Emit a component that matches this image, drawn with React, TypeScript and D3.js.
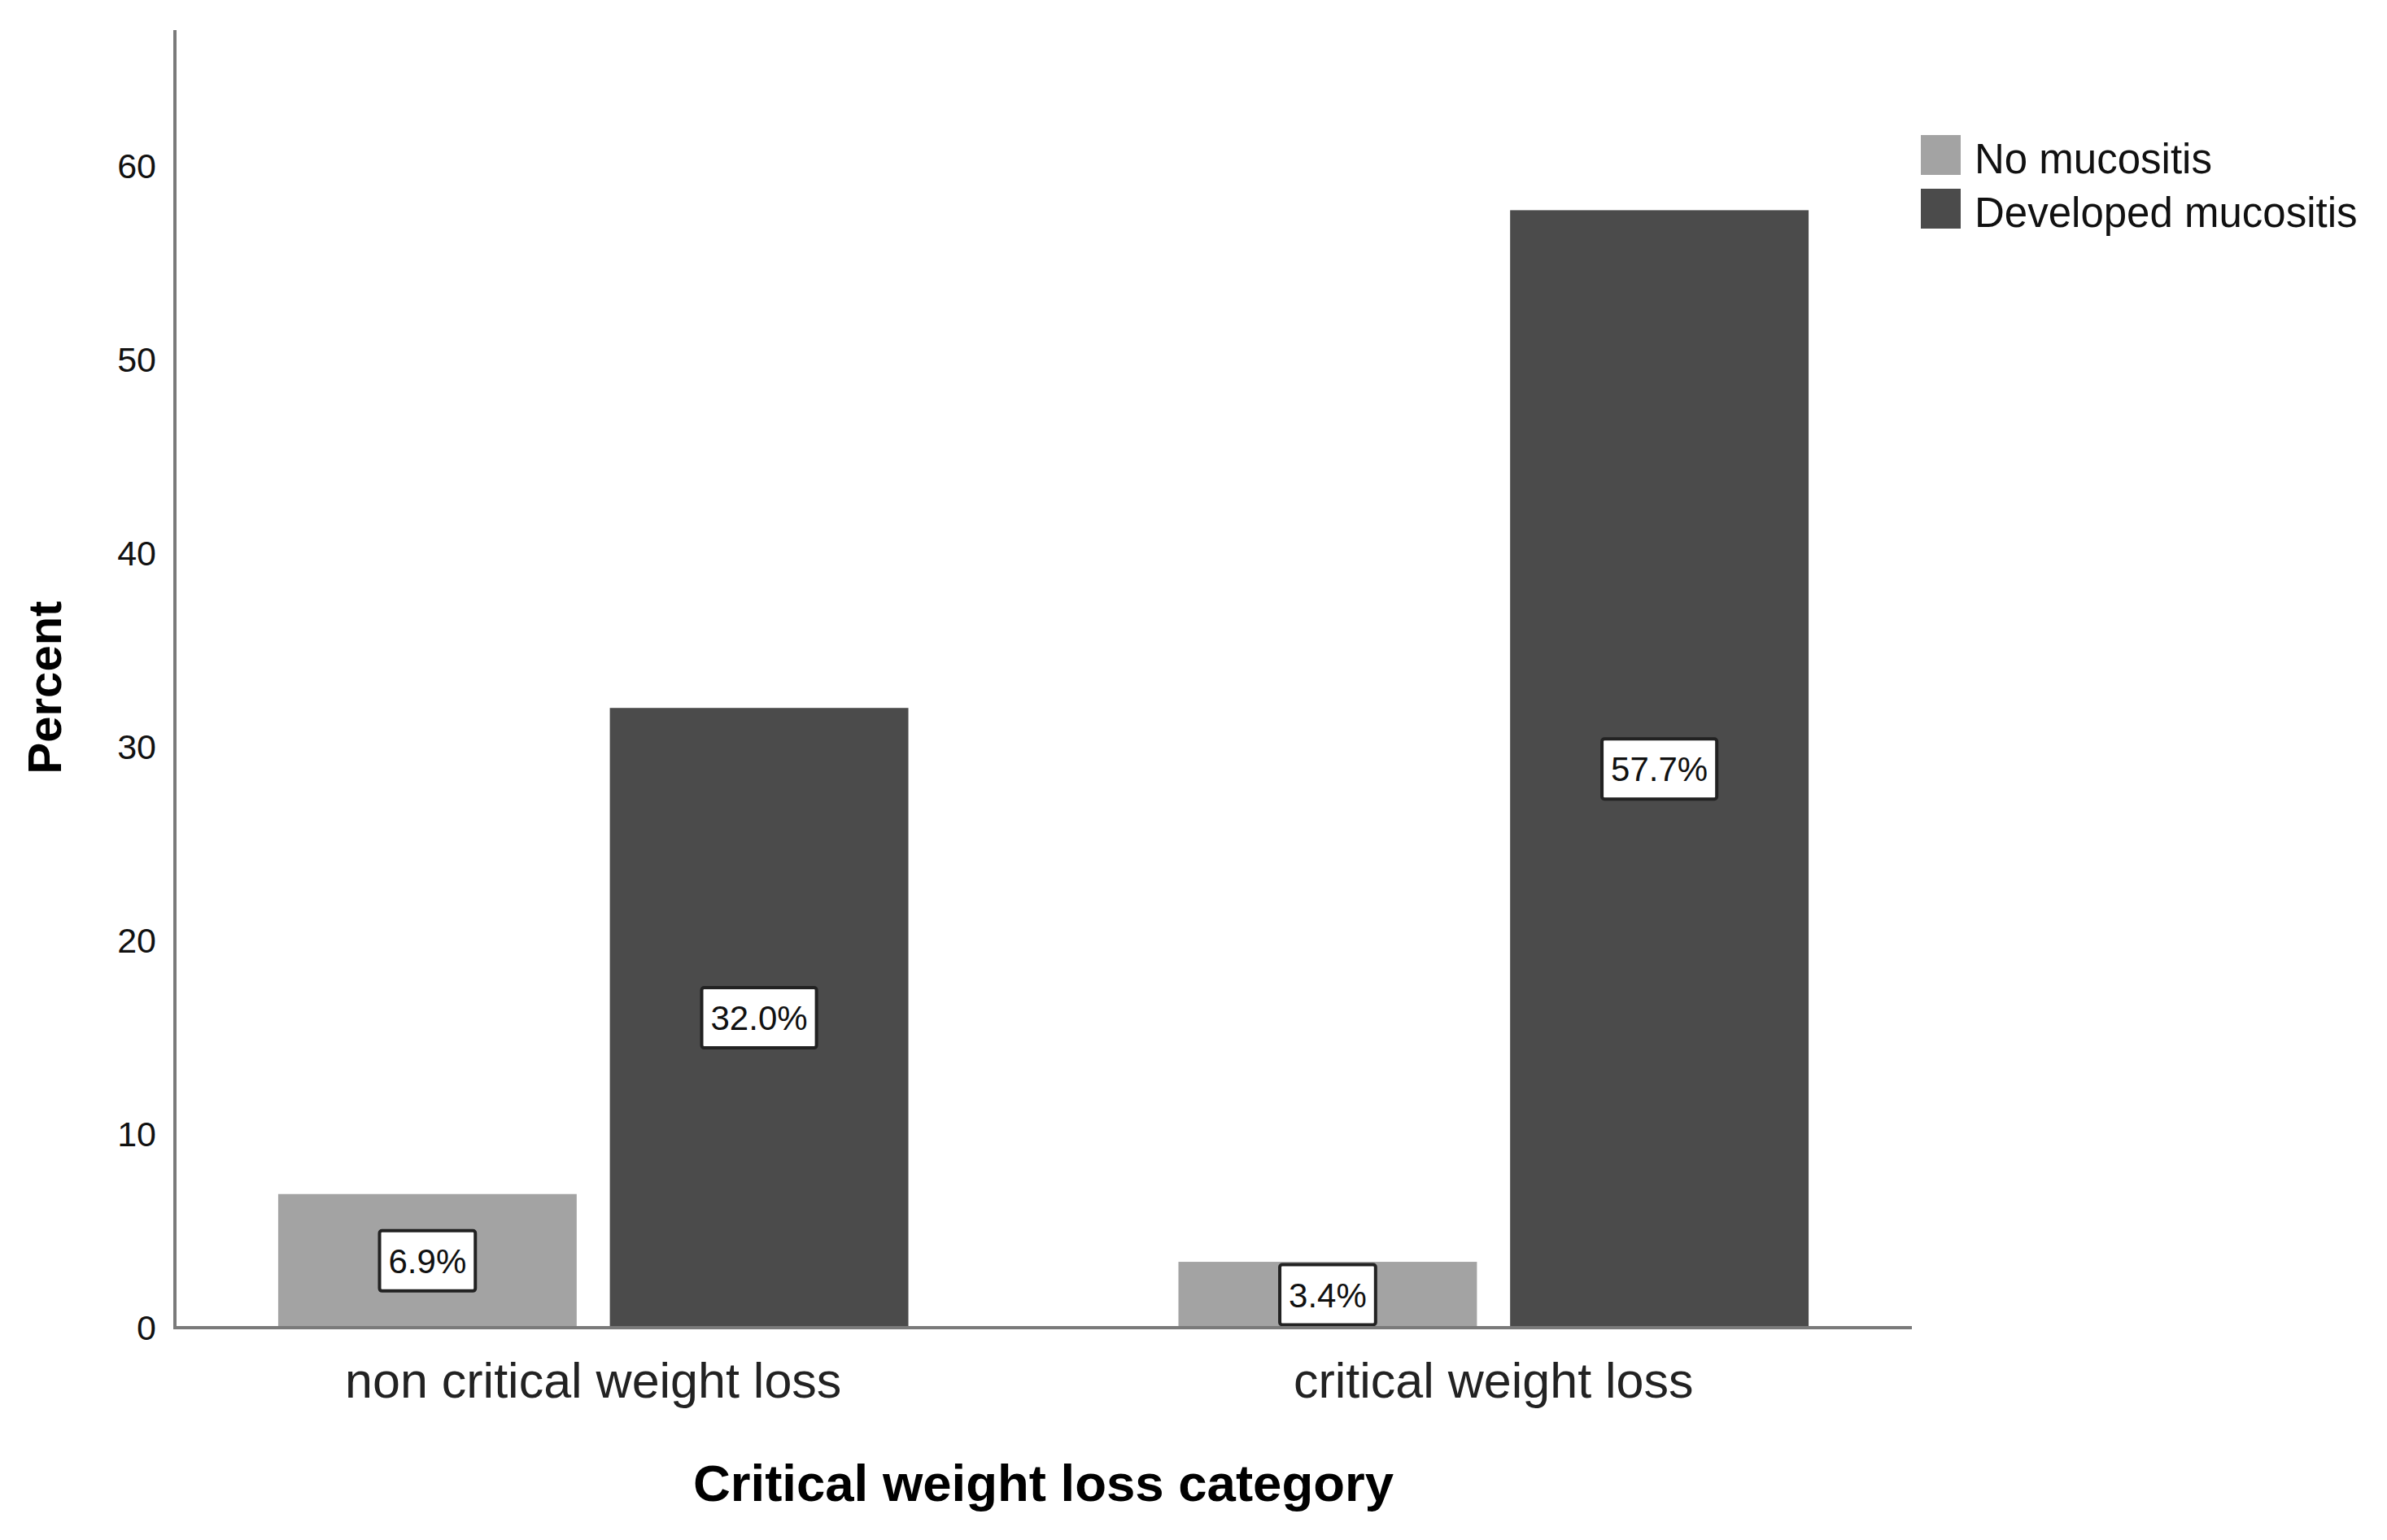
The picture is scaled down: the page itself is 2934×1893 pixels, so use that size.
import React, { useEffect, useRef } from "react";
import * as d3 from "d3";

const categories = ["non critical weight loss", "critical weight loss"];
const seriesNames = ["No mucositis", "Developed mucositis"];
const noMucositis = [6.9, 3.4];
const developedMucositis = [32.0, 57.7];
const yTicks = [0, 10, 20, 30, 40, 50, 60];
const seriesColors = ["#a3a3a3", "#4b4b4b"];

const W = 2934;
const H = 1893;
const FONT = "'Liberation Sans', Arial, sans-serif";

function App() {
  const svgRef = useRef<SVGSVGElement | null>(null);

  useEffect(() => {
    drawChart();
  }, []);

  const drawChart = () => {
    const svg = d3.select(svgRef.current);
    svg.selectAll("*").remove();

    const left = 215;
    const right = 2350;
    const top = 37;
    const bottom = 1632;

    const data = categories.map((c, i) => ({
      category: c,
      values: [noMucositis[i], developedMucositis[i]],
    }));

    const x0 = d3
      .scaleBand<string>()
      .domain(categories)
      .range([left, right])
      .paddingInner(0.3)
      .paddingOuter(0.1147);

    const x1 = d3
      .scaleBand<string>()
      .domain(seriesNames)
      .range([0, x0.bandwidth()])
      .paddingInner(0.1)
      .paddingOuter(0);

    const y = d3.scaleLinear().domain([0, 67]).range([bottom, top]);

    svg
      .append("rect")
      .attr("width", W)
      .attr("height", H)
      .attr("fill", "#ffffff");

    // bars
    const groups = svg
      .selectAll(".group")
      .data(data)
      .enter()
      .append("g")
      .attr("class", "group")
      .attr("transform", (d) => `translate(${x0(d.category)},0)`);

    const cells = groups
      .selectAll(".cell")
      .data((d) => d.values.map((v, i) => ({ name: seriesNames[i], value: v, idx: i })))
      .enter()
      .append("g")
      .attr("class", "cell");

    cells
      .append("rect")
      .attr("x", (d) => x1(d.name) as number)
      .attr("y", (d) => y(d.value))
      .attr("width", x1.bandwidth())
      .attr("height", (d) => y(0) - y(d.value))
      .attr("fill", (d) => seriesColors[d.idx]);

    // axes (SPSS style: lines only, no tick marks)
    svg
      .append("line")
      .attr("x1", left)
      .attr("x2", left)
      .attr("y1", top)
      .attr("y2", bottom)
      .attr("stroke", "#7a7a7a")
      .attr("stroke-width", 4);

    svg
      .append("line")
      .attr("x1", left - 2)
      .attr("x2", right)
      .attr("y1", bottom)
      .attr("y2", bottom)
      .attr("stroke", "#7a7a7a")
      .attr("stroke-width", 4);

    // value labels in boxes
    cells.each(function (d) {
      const g = d3.select(this);
      const cx = (x1(d.name) as number) + x1.bandwidth() / 2;
      const cy = y(d.value / 2);
      const t = g
        .append("text")
        .attr("x", cx)
        .attr("y", cy)
        .attr("dy", "0.36em")
        .attr("text-anchor", "middle")
        .attr("font-family", FONT)
        .attr("font-size", 42)
        .attr("fill", "#111")
        .text(`${d.value.toFixed(1)}%`);
      const bb = (t.node() as SVGTextElement).getBBox();
      g.insert("rect", "text")
        .attr("x", cx - bb.width / 2 - 11)
        .attr("y", cy - 37)
        .attr("width", bb.width + 22)
        .attr("height", 74)
        .attr("rx", 3)
        .attr("fill", "#ffffff")
        .attr("stroke", "#222")
        .attr("stroke-width", 4);
    });

    // y tick labels
    svg
      .selectAll(".ytick")
      .data(yTicks)
      .enter()
      .append("text")
      .attr("class", "ytick")
      .attr("x", 192)
      .attr("y", (d) => y(d))
      .attr("dy", "0.36em")
      .attr("text-anchor", "end")
      .attr("font-family", FONT)
      .attr("font-size", 43)
      .attr("fill", "#111")
      .text((d) => d);

    // category labels
    svg
      .selectAll(".xcat")
      .data(categories)
      .enter()
      .append("text")
      .attr("class", "xcat")
      .attr("x", (d) => (x0(d) as number) + x0.bandwidth() / 2)
      .attr("y", 1718)
      .attr("text-anchor", "middle")
      .attr("font-family", FONT)
      .attr("font-size", 61)
      .attr("fill", "#222")
      .text((d) => d);

    // axis titles
    svg
      .append("text")
      .attr("x", (left + right) / 2)
      .attr("y", 1845)
      .attr("text-anchor", "middle")
      .attr("font-family", FONT)
      .attr("font-weight", "bold")
      .attr("font-size", 63.5)
      .attr("fill", "#000")
      .text("Critical weight loss category");

    svg
      .append("text")
      .attr("transform", `translate(75,845) rotate(-90)`)
      .attr("text-anchor", "middle")
      .attr("font-family", FONT)
      .attr("font-weight", "bold")
      .attr("font-size", 58)
      .attr("fill", "#000")
      .text("Percent");

    // legend
    const legend = svg
      .selectAll(".legend")
      .data(seriesNames)
      .enter()
      .append("g")
      .attr("class", "legend")
      .attr("transform", (d, i) => `translate(2361,${166 + i * 66})`);

    legend
      .append("rect")
      .attr("width", 49)
      .attr("height", 49)
      .attr("fill", (d, i) => seriesColors[i]);

    legend
      .append("text")
      .attr("x", 66)
      .attr("y", 47)
      .attr("font-family", FONT)
      .attr("font-size", 51)
      .attr("fill", "#111")
      .text((d) => d);
  };

  return (
    <svg
      ref={svgRef}
      width={W}
      height={H}
      style={{ position: "absolute", left: 0, top: 0 }}
    />
  );
}

export default App;
